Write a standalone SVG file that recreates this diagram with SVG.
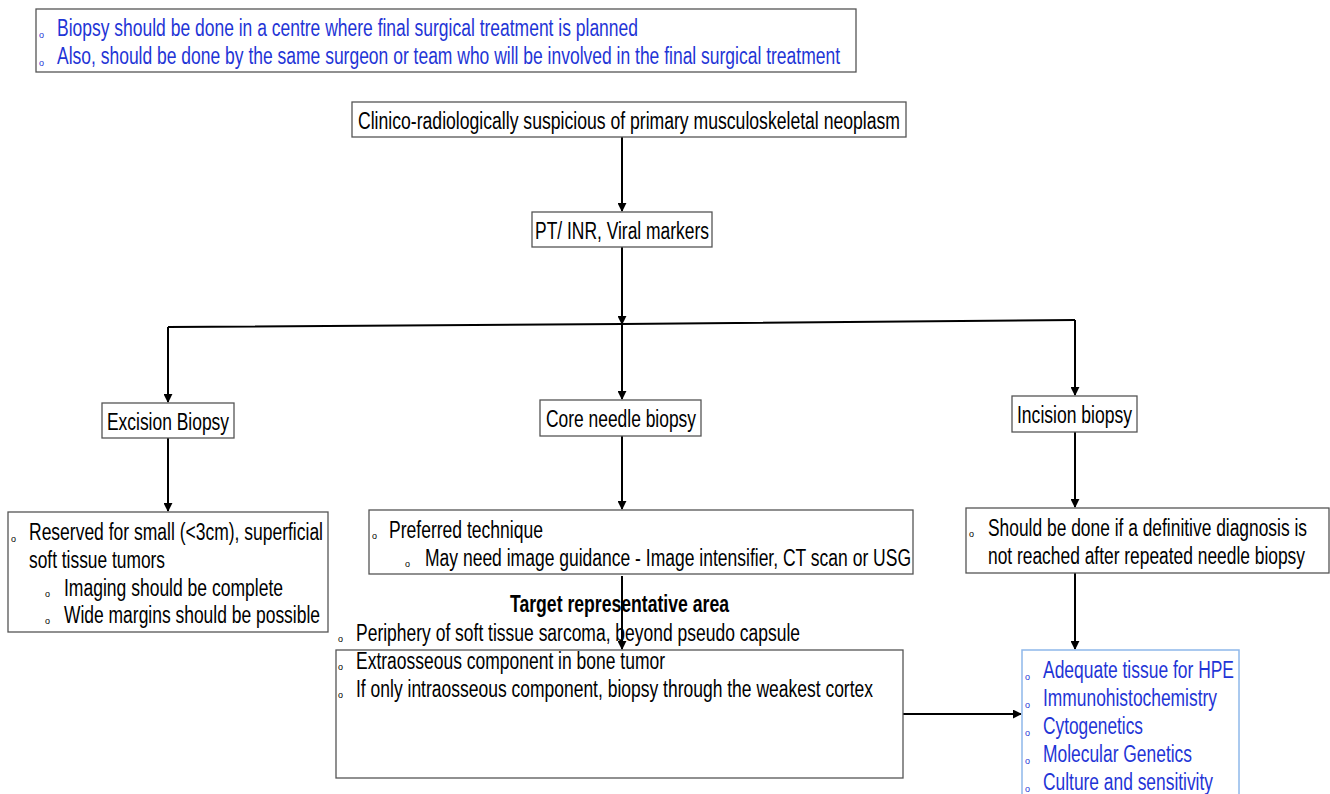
<svg xmlns="http://www.w3.org/2000/svg" width="1330" height="794" viewBox="0 0 1330 794">
<defs>
<style>
text{font-family:"Liberation Sans",Arial,sans-serif;font-size:23px;fill:#000}
.blue{fill:#1f35d6}
.bul{font-size:9px}
.box{fill:#fff;stroke:#555;stroke-width:1.3}
.bbox{fill:#fff;stroke:#8fb8ea;stroke-width:1.5}
.b{font-weight:bold}
.ln{fill:none;stroke:#000;stroke-width:2}
</style>
<marker id="ah" viewBox="0 0 10 10" refX="9" refY="5" markerWidth="4.5" markerHeight="4.5" orient="auto"><path d="M0,0 L10,5 L0,10 z" fill="#000"/></marker>
</defs>
<rect width="1330" height="794" fill="#fff"/>

<g id="connectors">
<line class="ln" x1="622" y1="137" x2="622" y2="211" marker-end="url(#ah)"/>
<line class="ln" x1="622" y1="247" x2="622" y2="324" marker-end="url(#ah)"/>
<polyline class="ln" points="168,327 622,324 1075,320"/>
<line class="ln" x1="168" y1="327" x2="168" y2="402" marker-end="url(#ah)"/>
<line class="ln" x1="622" y1="324" x2="622" y2="399" marker-end="url(#ah)"/>
<line class="ln" x1="1075" y1="320" x2="1075" y2="395" marker-end="url(#ah)"/>
<line class="ln" x1="168" y1="438" x2="168" y2="511" marker-end="url(#ah)"/>
<line class="ln" x1="622" y1="436" x2="622" y2="509" marker-end="url(#ah)"/>
<line class="ln" x1="1075" y1="432" x2="1075" y2="507" marker-end="url(#ah)"/>
<line class="ln" x1="1075" y1="573" x2="1075" y2="649" marker-end="url(#ah)"/>
<line class="ln" x1="903" y1="714" x2="1021" y2="714" marker-end="url(#ah)"/>
</g>

<g id="note">
<rect class="box" x="36" y="9" width="820" height="63"/>
<text class="bul blue" x="39" y="38">o</text>
<text class="blue" x="57" y="36" textLength="581" lengthAdjust="spacingAndGlyphs">Biopsy should be done in a centre where final surgical treatment is planned</text>
<text class="bul blue" x="39" y="66">o</text>
<text class="blue" x="57" y="64" textLength="783" lengthAdjust="spacingAndGlyphs">Also, should be done by the same surgeon or team who will be involved in the final surgical treatment</text>
</g>

<g id="start">
<rect class="box" x="352" y="102" width="554" height="35"/>
<text x="358" y="129" textLength="542" lengthAdjust="spacingAndGlyphs">Clinico-radiologically suspicious of primary musculoskeletal neoplasm</text>
</g>

<g id="ptinr">
<rect class="box" x="532" y="212" width="180" height="35"/>
<text x="535" y="239" textLength="174" lengthAdjust="spacingAndGlyphs">PT/ INR, Viral markers</text>
</g>

<g id="excision">
<rect class="box" x="102" y="403" width="132" height="35"/>
<text x="107" y="430" textLength="122" lengthAdjust="spacingAndGlyphs">Excision Biopsy</text>
</g>

<g id="core">
<rect class="box" x="540" y="400" width="161" height="36"/>
<text x="546" y="427" textLength="150" lengthAdjust="spacingAndGlyphs">Core needle biopsy</text>
</g>

<g id="incision">
<rect class="box" x="1012" y="396" width="125" height="36"/>
<text x="1017" y="423" textLength="115" lengthAdjust="spacingAndGlyphs">Incision biopsy</text>
</g>

<g id="excision-detail">
<rect class="box" x="8" y="512" width="320" height="120"/>
<text class="bul" x="11" y="542">o</text>
<text x="29" y="540" textLength="294" lengthAdjust="spacingAndGlyphs">Reserved for small (&lt;3cm), superficial</text>
<text x="29" y="568" textLength="136" lengthAdjust="spacingAndGlyphs">soft tissue tumors</text>
<text class="bul" x="45" y="597">o</text>
<text x="64" y="596" textLength="219" lengthAdjust="spacingAndGlyphs">Imaging should be complete</text>
<text class="bul" x="45" y="624">o</text>
<text x="64" y="623" textLength="256" lengthAdjust="spacingAndGlyphs">Wide margins should be possible</text>
</g>

<g id="core-detail">
<rect class="box" x="369" y="510" width="544" height="64"/>
<text class="bul" x="372" y="539">o</text>
<text x="389" y="538" textLength="154" lengthAdjust="spacingAndGlyphs">Preferred technique</text>
<text class="bul" x="405" y="567">o</text>
<text x="425" y="566" textLength="486" lengthAdjust="spacingAndGlyphs">May need image guidance - Image intensifier, CT scan or USG</text>
</g>

<g id="incision-detail">
<rect class="box" x="966" y="508" width="363" height="65"/>
<text class="bul" x="969" y="537">o</text>
<text x="988" y="536" textLength="319" lengthAdjust="spacingAndGlyphs">Should be done if a definitive diagnosis is</text>
<text x="988" y="564" textLength="317" lengthAdjust="spacingAndGlyphs">not reached after repeated needle biopsy</text>
</g>

<g id="target">
<rect class="box" x="336" y="650" width="567" height="128"/>
<line class="ln" x1="622" y1="576" x2="622" y2="649" marker-end="url(#ah)"/>
<text class="b" x="510" y="612" font-size="20" textLength="219" lengthAdjust="spacingAndGlyphs">Target representative area</text>
<text class="bul" x="338" y="642">o</text>
<text x="356" y="641" textLength="444" lengthAdjust="spacingAndGlyphs">Periphery of soft tissue sarcoma, beyond pseudo capsule</text>
<text class="bul" x="338" y="670">o</text>
<text x="356" y="669" textLength="309" lengthAdjust="spacingAndGlyphs">Extraosseous component in bone tumor</text>
<text class="bul" x="338" y="698">o</text>
<text x="356" y="697" textLength="517" lengthAdjust="spacingAndGlyphs">If only intraosseous component, biopsy through the weakest cortex</text>
</g>

<g id="outcomes">
<rect class="bbox" x="1022" y="650" width="217" height="150"/>
<text class="bul blue" x="1025" y="680">o</text>
<text class="blue" x="1043" y="678" textLength="191" lengthAdjust="spacingAndGlyphs">Adequate tissue for HPE</text>
<text class="bul blue" x="1025" y="708">o</text>
<text class="blue" x="1043" y="706" textLength="174" lengthAdjust="spacingAndGlyphs">Immunohistochemistry</text>
<text class="bul blue" x="1025" y="736">o</text>
<text class="blue" x="1043" y="734" textLength="100" lengthAdjust="spacingAndGlyphs">Cytogenetics</text>
<text class="bul blue" x="1025" y="764">o</text>
<text class="blue" x="1043" y="762" textLength="149" lengthAdjust="spacingAndGlyphs">Molecular Genetics</text>
<text class="bul blue" x="1025" y="792">o</text>
<text class="blue" x="1043" y="790" textLength="170" lengthAdjust="spacingAndGlyphs">Culture and sensitivity</text>
</g>
</svg>
